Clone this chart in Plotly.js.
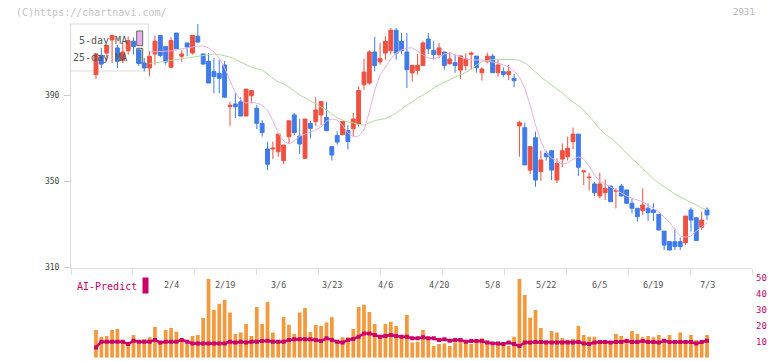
<!DOCTYPE html>
<html><head><meta charset="utf-8">
<script src="https://cdn.plot.ly/plotly-3.0.1.min.js"></script>
<style>html,body{margin:0;padding:0;background:#fff;}#chart{width:772px;height:361px;}</style>
</head><body><div id="chart"></div>
<script>
// ---- data ----
const openP = [399.5,408.4,409.5,415.6,411.9,406.0,410.6,415.0,410.9,404.9,
402.6,409.1,417.7,412.6,402.9,418.8,408.0,414.2,409.5,417.3,
409.1,405.7,400.9,400.1,404.0,384.7,385.9,386.9,380.3,389.7,
383.9,376.9,365.0,365.0,363.7,359.6,370.7,380.8,371.0,360.7,
376.9,377.7,380.8,379.7,366.1,371.2,371.6,373.6,374.4,376.6,
394.8,395.6,410.0,405.4,409.5,410.6,420.1,414.95,410.0,400.3,
401.5,403.7,416.0,410.8,408.8,410.0,404.6,405.05,401.6,403.7,
409.0,408.1,400.4,405.5,408.1,400.4,400.9,399.6,397.8,375.7,
374.9,355.2,370.2,354.5,363.0,364.2,350.6,360.3,361.4,368.4,
371.9,354.4,351.7,348.8,343.2,344.7,347.8,345.4,347.8,346.0,
339.8,337.5,336.4,337.5,336.7,334.7,326.9,322.0,322.0,322.0,
321.5,336.7,333.1,328.6,336.7];
const highP = [409.1,411.9,413.1,417.7,413.4,414.2,417.3,416.8,411.5,407.2,
410.3,417.7,417.7,412.6,416.8,418.8,410.9,414.2,417.7,423.0,
409.1,409.5,407.1,406.3,405.8,386.9,391.1,389.0,392.8,392.1,
385.4,378.5,368.4,368.4,371.9,366.8,378.1,381.8,378.9,378.9,
378.1,389.0,387.0,387.0,366.1,373.2,377.8,376.0,381.7,394.1,
406.9,410.8,417.0,414.2,417.3,421.1,421.1,418.8,418.8,403.8,
409.1,415.0,418.8,415.0,414.2,410.0,410.0,408.9,408.2,409.4,
410.2,408.1,402.9,409.7,409.1,406.6,402.9,404.0,399.8,378.1,
377.2,366.1,373.0,364.2,364.2,364.2,360.7,367.6,370.7,374.9,
371.9,354.8,354.0,349.8,354.0,350.9,347.8,346.7,348.8,346.0,
342.1,337.5,346.7,339.8,339.8,334.7,326.9,322.0,328.2,324.0,
333.9,337.9,333.1,335.9,337.9];
const lowP = [397.5,402.6,405.7,404.9,402.6,404.9,408.8,408.8,403.5,401.0,
398.7,404.1,407.5,404.1,402.9,411.5,405.4,408.0,408.8,414.6,
404.1,395.6,390.8,390.8,389.0,375.7,379.2,380.3,380.3,386.2,
374.3,370.7,355.2,360.4,361.4,358.0,367.3,371.5,362.7,360.4,
369.9,375.7,376.1,373.5,359.6,367.0,371.6,364.7,370.9,375.5,
392.5,394.8,401.0,404.1,406.4,408.8,406.4,409.1,393.3,396.4,
399.5,403.7,409.1,406.4,407.2,401.8,404.1,400.4,397.5,401.6,
401.9,400.4,396.7,404.7,400.4,398.5,398.5,397.0,393.6,361.4,
357.6,353.4,347.5,350.3,359.6,350.6,349.1,356.5,359.6,364.8,
352.5,348.3,345.7,343.2,342.1,341.3,340.5,337.5,343.2,339.8,
335.1,331.3,334.4,331.7,331.7,327.4,318.1,318.1,318.1,318.1,
320.4,326.6,322.5,327.4,332.0];
const closeP = [409.1,404.4,413.1,417.7,405.7,410.0,415.3,412.5,404.7,402.6,
408.0,415.0,408.4,405.4,415.3,411.5,409.1,412.3,417.7,414.6,
404.4,395.6,398.6,397.8,389.0,385.3,384.6,380.3,392.8,392.1,
376.9,372.6,357.9,365.4,371.9,366.8,378.1,372.6,367.3,378.9,
374.6,383.1,387.0,373.5,362.2,368.2,377.8,368.5,378.9,392.1,
400.7,410.0,403.7,406.9,414.95,420.1,409.5,410.6,401.8,403.8,
403.8,414.2,411.5,408.8,411.9,403.8,406.8,403.7,408.2,406.8,
409.4,402.7,402.1,408.1,400.4,404.0,399.6,400.9,396.7,377.2,
357.6,366.1,350.6,359.9,361.4,355.2,358.3,364.2,365.3,371.9,
356.5,354.8,351.9,344.7,348.8,346.7,340.5,345.7,343.2,339.8,
337.5,333.6,339.0,335.5,335.5,327.4,320.4,318.1,319.7,319.7,
333.9,332.0,322.5,332.0,334.4];
const volume = [17.4,13.0,13.7,17.4,18.1,9.5,8.0,14.3,10.7,11.6,
12.8,19.3,8.8,17.4,18.7,16.4,11.2,9.0,13.7,14.3,
25.0,49.6,30.0,34.0,36.3,28.4,14.9,15.8,21.2,13.7,
31.9,21.2,35.1,15.8,11.2,25.6,20.8,14.9,28.5,31.3,
16.2,20.6,20.0,22.1,25.4,11.2,12.8,12.8,18.1,31.9,
33.4,28.8,21.2,13.2,21.2,22.7,20.0,12.8,26.9,9.5,
10.1,17.4,12.8,7.4,8.6,9.0,7.4,9.5,11.2,10.1,
8.6,10.1,12.2,9.5,7.4,8.6,7.4,7.4,13.2,49.6,
39.5,25.2,30.0,18.7,11.2,16.8,15.8,12.4,11.2,11.8,
20.0,14.3,13.2,13.2,11.2,10.7,10.1,14.9,13.7,12.0,
16.8,14.9,12.8,13.7,12.8,14.3,10.1,14.3,10.1,15.8,
10.1,14.3,11.2,10.1,14.3];
const aiPredict = [6.5,10.1,10.1,10.1,10.1,10.1,8.6,10.7,10.1,10.1,
10.1,11.2,9.5,10.1,10.1,10.1,11.2,10.1,9.0,9.0,
9.0,9.0,9.0,9.0,9.0,10.1,9.5,10.1,9.5,10.1,
10.1,10.5,10.7,10.1,10.1,10.1,11.2,11.6,11.6,11.6,
11.6,11.2,10.5,12.2,11.2,10.1,9.5,11.2,11.8,13.2,
15.3,15.3,14.3,13.2,13.7,14.3,13.7,13.2,13.2,12.2,
12.2,12.8,12.2,12.2,11.2,11.6,10.7,11.2,11.2,10.1,
10.5,10.5,10.5,9.5,9.0,9.0,8.6,9.5,8.6,7.4,
9.5,9.5,9.9,9.9,9.5,9.5,9.5,9.5,9.5,9.5,
9.9,9.0,8.6,9.5,9.9,9.9,9.5,9.9,9.9,10.5,
9.9,9.9,10.5,9.9,9.9,9.5,10.7,9.9,9.9,9.9,
9.9,9.9,9.0,9.9,10.7];
// moving averages as drawn (visible from candle 10 on)
const maStart = 10;
const ma5 = [410.0,410.1,410.2,410.3,410.5,411.0,411.4,411.9,412.3,412.8,
412.8,411.9,410.0,407.2,402.6,397.0,391.0,387.7,386.3,386.8,
386.3,385.4,383.1,378.0,372.4,368.7,367.3,368.7,371.0,371.9,
372.9,373.8,375.2,378.0,378.9,378.4,376.1,372.4,370.6,371.0,
373.8,382.2,392.4,399.3,403.0,406.8,409.5,410.9,411.9,411.9,
410.5,408.6,407.2,406.8,407.7,409.1,409.5,408.6,407.7,406.8,
406.3,406.3,406.3,405.8,405.4,404.9,404.0,403.0,401.2,398.4,
393.3,385.4,376.1,368.7,363.1,360.8,359.4,358.0,358.5,360.3,
361.3,360.3,357.1,352.9,350.1,348.7,347.4,346.0,344.6,343.2,
342.2,341.3,340.4,339.0,337.6,335.8,333.4,331.1,327.4,324.6,
324.1,324.6,326.9,328.8,330.6];
const ma25 = [404.7,404.9,405.1,405.6,406.1,406.5,406.8,407.3,407.8,408.2,
408.6,408.9,409.1,408.8,408.4,407.7,406.5,405.4,404.0,403.0,
402.3,401.6,399.8,397.9,396.1,395.2,393.8,391.9,390.0,388.7,
387.3,385.9,384.5,383.1,381.2,379.4,378.4,377.5,377.1,376.4,
376.1,377.1,378.2,378.7,379.1,380.3,381.7,383.5,385.4,386.8,
388.7,390.0,391.7,393.3,394.7,396.1,397.0,398.4,399.3,400.5,
402.1,404.0,405.4,406.1,406.5,406.6,406.6,406.6,406.5,406.1,
404.9,403.0,400.5,398.4,396.5,394.7,392.8,391.0,388.7,386.8,
384.9,383.1,380.3,377.1,374.3,371.9,370.1,368.2,365.5,363.1,
360.8,358.5,356.2,353.4,351.1,349.2,347.4,345.5,344.1,342.7,
341.3,340.2,339.0,337.6,336.7];
const dateLabels = ['2/4','2/19','3/6','3/23','4/6','4/20','5/8','5/22','6/5','6/19','7/3'];
const dateLabelIndex = [14,24,34,44,54,64,74,84,94,104,114];
const priceTicks = [310,350,390];
const aiTicks = [0,10,20,30,40,50];

// ---- layout helpers (pixel geometry) ----
const W = 772, H = 361, PL = 71, PR = 752;
const PX = p => (p - PL) / (PR - PL);
const PY = p => (H - p) / H;
const idx = openP.map((_, i) => i);
const xMin = -4.664, xMax = 122.39;
const divTicks = Array.from({length: 12}, (_, k) => xMin + 0.0005 + k * (xMax - xMin - 0.001) / 11);
const mono = 'DejaVu Sans Mono, monospace';
const RED = '#ef5140', BLUE = '#3f7be9', PINK = '#e8b0e8', GREEN = '#b0dca0', AI = '#cc0066';

const traces = [
  {type: 'bar', x: idx, y: volume, xaxis: 'x', yaxis: 'y2', width: 0.7,
   marker: {color: '#f39a3e', line: {width: 0}}, hoverinfo: 'skip'},
  {type: 'scatter', mode: 'lines+markers', x: idx, y: aiPredict, xaxis: 'x', yaxis: 'y2',
   line: {color: AI, width: 2.5}, marker: {color: AI, size: 4, symbol: 'square'}, hoverinfo: 'skip'},
  {type: 'scatter', mode: 'lines', x: ma25.map((_, k) => k + maStart), y: ma25,
   line: {color: GREEN, width: 1}, hoverinfo: 'skip'},
  {type: 'scatter', mode: 'lines', x: ma5.map((_, k) => k + maStart), y: ma5,
   line: {color: PINK, width: 1}, hoverinfo: 'skip'},
  {type: 'candlestick', x: idx, open: openP, high: highP, low: lowP, close: closeP,
   increasing: {line: {color: RED, width: 1}, fillcolor: RED},
   decreasing: {line: {color: BLUE, width: 1}, fillcolor: BLUE},
   whiskerwidth: 0, hoverinfo: 'skip'}
];

const annotations = dateLabels.map((t, k) => ({
  text: t, x: dateLabelIndex[k], xref: 'x', y: PY(285), yref: 'paper',
  showarrow: false, xanchor: 'center', yanchor: 'middle',
  font: {family: mono, size: 8.5, color: '#555'}
}));
annotations.push(
  {text: '(C)https://chartnavi.com/', x: PX(14), y: PY(12), xref: 'paper', yref: 'paper', showarrow: false,
   xanchor: 'left', yanchor: 'middle', font: {family: mono, size: 10, color: '#c4c4c4'}},
  {text: '2931', x: PX(757), y: PY(12), xref: 'paper', yref: 'paper', showarrow: false,
   xanchor: 'right', yanchor: 'middle', font: {family: mono, size: 9, color: '#b4b4b4'}},
  {text: '5-day MA', x: PX(129), y: PY(40), xref: 'paper', yref: 'paper', showarrow: false,
   xanchor: 'right', yanchor: 'middle', font: {family: mono, size: 10, color: '#555'}},
  {text: '25-day MA', x: PX(129), y: PY(57), xref: 'paper', yref: 'paper', showarrow: false,
   xanchor: 'right', yanchor: 'middle', font: {family: mono, size: 10, color: '#555'}},
  {text: 'AI-Predict', x: PX(75), y: PY(286), xref: 'paper', yref: 'paper', showarrow: false,
   xanchor: 'left', yanchor: 'middle', font: {family: mono, size: 10, color: AI}}
);

const shapes = [
  {type: 'rect', xref: 'paper', yref: 'paper', x0: PX(70.5), x1: PX(148.5), y0: PY(71), y1: PY(24),
   fillcolor: '#ffffff', line: {color: '#dddddd', width: 1.2}, layer: 'below'},
  {type: 'rect', xref: 'paper', yref: 'paper', x0: PX(136.7), x1: PX(142.7), y0: PY(45.7), y1: PY(31),
   fillcolor: PINK, line: {color: '#666', width: 1}, layer: 'below'},
  {type: 'rect', xref: 'paper', yref: 'paper', x0: PX(136.7), x1: PX(142.7), y0: PY(63), y1: PY(48.3),
   fillcolor: GREEN, line: {color: '#666', width: 1}, layer: 'below'},
  {type: 'rect', xref: 'paper', yref: 'paper', x0: PX(142.5), x1: PX(148.5), y0: PY(293.5), y1: PY(277.5),
   fillcolor: AI, line: {width: 0}}
];

const layout = {
  width: W, height: H,
  margin: {l: PL, r: W - PR, t: 0, b: 0, pad: 0},
  paper_bgcolor: '#fff', plot_bgcolor: '#fff',
  showlegend: false, boxgap: 0.15, boxgroupgap: 0.15,
  xaxis: {range: [xMin, xMax], anchor: 'y', rangeslider: {visible: false},
    showgrid: false, zeroline: false, showline: true, linecolor: '#dddddd', linewidth: 1,
    ticks: 'outside', ticklen: 6, tickcolor: '#dddddd', tickwidth: 1,
    tickmode: 'array', tickvals: divTicks, showticklabels: false, fixedrange: true},
  yaxis: {domain: [PY(267.5), PY(24)], range: [310, 423], anchor: 'x',
    showgrid: false, zeroline: false, showline: true, linecolor: '#dddddd', linewidth: 1,
    ticks: 'outside', ticklen: 6, tickcolor: '#cccccc', tickmode: 'array', tickvals: priceTicks,
    ticklabelstandoff: 3, tickfont: {family: mono, size: 8, color: '#444'}, fixedrange: true},
  yaxis2: {domain: [PY(357.7), PY(278.3)], range: [0, 50], anchor: 'x', side: 'right',
    showgrid: false, zeroline: false, showline: false, ticks: '',
    tickmode: 'array', tickvals: aiTicks, ticklabelstandoff: 3,
    tickfont: {family: mono, size: 9, color: AI}, fixedrange: true},
  annotations: annotations, shapes: shapes
};

Plotly.newPlot('chart', traces, layout, {staticPlot: true, displayModeBar: false});
</script>
</body></html>
